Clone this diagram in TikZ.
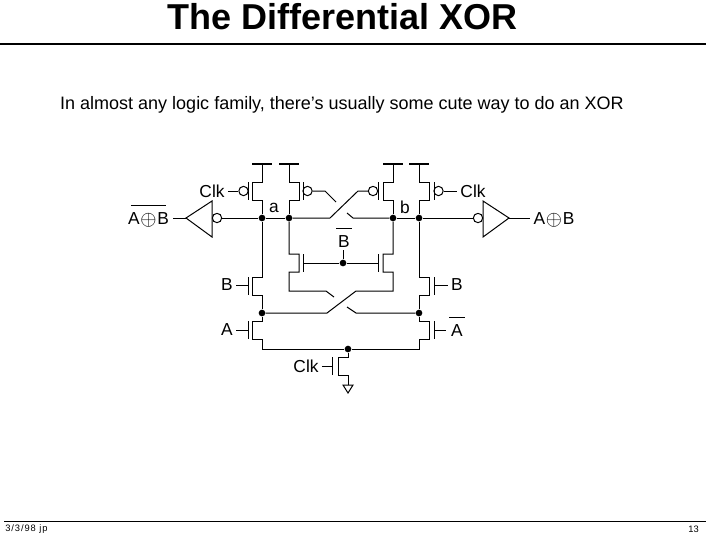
\documentclass[tikz,border=0pt]{standalone}
\usepackage{fontspec}
\setmainfont{Liberation Sans}
\newcommand{\xorsign}{\kern0.5pt\smash{\raisebox{-1.2pt}{\scalebox{1.3}{$\oplus$}}}\kern0.5pt}
\newcommand{\barred}[2][1.5pt]{$\overline{\mbox{\rule{0pt}{12.3pt}\kern#1 #2\kern#1}}$}
\tikzset{
	wire/.style={line width=0.75pt},
	dot/.style={circle, fill=black, inner sep=0pt, minimum size=5pt},
	bubble/.style={circle, draw, line width=0.75pt, inner sep=0pt, minimum size=7pt},
	lbl/.style={inner sep=0pt, outer sep=2.5pt, font=\fontsize{13}{15}\selectfont},
	rail/.style={line width=1.5pt}
}
\begin{document}
\begin{tikzpicture}[x=0.75pt,y=-0.75pt]
		\useasboundingbox (0,0) rectangle (717,536);

		% Title and text
		\node[inner sep=0pt, font=\fontsize{27}{30}\bfseries\selectfont] (title) at (342.5,16.5) {The Differential XOR};
		\coordinate (titleL) at (0,44);
		\coordinate (titleR) at (706,44);
		\draw[line width=1.1pt] (titleL) -- (titleR);
		\node[inner sep=0pt, font=\fontsize{13.5}{16}\selectfont] (intro) at (342,105) {In almost any logic family, there's usually some cute way to do an XOR};

		% Junction dots
		\node[dot] (a1) at (262,218) {};
		\node[dot] (a2) at (289,218) {};
		\node[dot] (b1) at (393,218) {};
		\node[dot] (b2) at (419,218) {};
		\node[dot] (s1) at (262,313) {};
		\node[dot] (s2) at (419,313) {};
		\node[dot] (tail) at (348,349) {};
		\node[dot] (gateB) at (343,263) {};

		% Supply rails
		\coordinate (vdd1) at (262,164);
		\coordinate (vdd2) at (289,164);
		\coordinate (vdd3) at (393,164);
		\coordinate (vdd4) at (419,164);
		\draw[rail] (252,164) -- (272,164);
		\draw[rail] (279,164) -- (299,164);
		\draw[rail] (383,164) -- (403,164);
		\draw[rail] (409,164) -- (429,164);

		% Load devices
		\draw[wire] (vdd1) -- (262,182) -- (252,182) -- (252,200) -- (262,200) -- (a1);
		\draw[wire] (vdd2) -- (289,182) -- (299,182) -- (299,200) -- (289,200) -- (a2);
		\draw[wire] (vdd3) -- (393,182) -- (383,182) -- (383,200) -- (393,200) -- (b1);
		\draw[wire] (vdd4) -- (419,182) -- (429,182) -- (429,200) -- (419,200) -- (b2);
		\draw[wire] (248,182) -- (248,200);
		\draw[wire] (303,182) -- (303,200);
		\draw[wire] (378,182) -- (378,200);
		\draw[wire] (434,182) -- (434,200);

		% Gate bubbles
		\node[bubble] (g1) at (243.5,191) {};
		\node[bubble] (g2) at (307.5,191) {};
		\node[bubble] (g3) at (373,191) {};
		\node[bubble] (g4) at (438.5,191) {};

		% Clk labels
		\node[lbl] (clkL) at (212,191) {Clk};
		\node[lbl] (clkR) at (473,191) {Clk};
		\draw[wire] (clkL.east) -- (g1);
		\draw[wire] (g4) -- (clkR.west);

		% Upper crossover
		\draw[wire] (g2) -- (325,191) -- (336,202);
		\draw[wire] (g3) -- (358,191) -- (330,218) -- (a2);
		\draw[wire] (347,213) -- (353,218) -- (b1);

		% Node wires
		\node[bubble] (invL) at (217,218) {};
		\node[bubble] (invR) at (478,218) {};
		\draw[wire] (invL) -- (a1) -- (a2);
		\draw[wire] (b1) -- (b2) -- (invR);
		\node[inner sep=0pt, font=\fontsize{13}{15}\selectfont] (la) at (274,208) {a};
		\node[inner sep=0pt, font=\fontsize{13}{15}\selectfont] (lb) at (405,207) {b};

		% Inverters
		\coordinate (tipL) at (186,218);
		\coordinate (tipR) at (509,218);
		\draw[wire] (tipL) -- (212,201) -- (212,237) -- cycle;
		\draw[wire] (tipR) -- (483,201) -- (483,237) -- cycle;
		\node[lbl, anchor=base] (outL) at (148.5,224) {\barred[-2pt]{A\xorsign B}};
		\node[lbl, anchor=base] (outR) at (554,224) {A\xorsign B};
		\draw[wire] (173,218) -- (tipL);
		\draw[wire] (tipR) -- (outR.west |- 0,218);

		% Cross coupled pair with Bbar gate
		\draw[wire] (a2) -- (289,254) -- (299,254) -- (299,272) -- (289,272) -- (289,291) -- (326,291) -- (334,297);
		\draw[wire] (b1) -- (393,254) -- (383,254) -- (383,272) -- (393,272) -- (393,291) -- (356,291) -- (327,313) -- (s1);
		\draw[wire] (347,307) -- (356,313) -- (s2);
		\draw[wire] (303,254) -- (303,272);
		\draw[wire] (378,254) -- (378,272);
		\draw[wire] (303,263) -- (gateB) -- (378,263);
		\node[lbl, anchor=base] (lBbar) at (344,247) {\barred{B}};
		\draw[wire] (gateB) -- (343,250);

		% B devices
		\draw[wire] (a1) -- (262,277) -- (252,277) -- (252,295) -- (262,295) -- (s1);
		\draw[wire] (b2) -- (419,277) -- (429,277) -- (429,295) -- (419,295) -- (s2);
		\draw[wire] (248,277) -- (248,295);
		\draw[wire] (434,277) -- (434,295);
		\node[lbl] (lBl) at (227,285) {B};
		\node[lbl] (lBr) at (457,285) {B};
		\draw[wire] (lBl.east) -- (248,285);
		\draw[wire] (434,285) -- (lBr.west);

		% A devices
		\draw[wire] (s1) -- (262,321) -- (252,321) -- (252,339) -- (262,339) -- (262,349) -- (tail);
		\draw[wire] (s2) -- (419,321) -- (429,321) -- (429,339) -- (419,339) -- (419,349) -- (tail);
		\draw[wire] (248,321) -- (248,339);
		\draw[wire] (434,321) -- (434,339);
		\node[lbl] (lA) at (227,330) {A};
		\node[lbl, anchor=base] (lAbar) at (457,336) {\barred{A}};
		\draw[wire] (lA.east) -- (248,330);
		\draw[wire] (434,330) -- (lAbar.west |- 0,330);

		% Clk tail device
		\draw[wire] (tail) -- (348,357) -- (338,357) -- (338,375) -- (348,375) -- (348,385);
		\draw[wire] (332,357) -- (332,375);
		\node[lbl] (clkT) at (306,366) {Clk};
		\draw[wire] (clkT.east) -- (332,366);
		\coordinate (gnd) at (348,385);
		\draw[wire] (343,385) -- (353,385) -- (348,393) -- cycle;

		% Footer
		\coordinate (footL) at (4,521);
		\coordinate (footR) at (706,521);
		\draw[wire] (footL) -- (footR);
		\node[inner sep=0pt, anchor=west, font=\fontsize{7}{8}\selectfont\addfontfeature{LetterSpace=10}] (date) at (5,529) {3/3/98 jp};
		\node[inner sep=0pt, anchor=east, font=\fontsize{7}{8}\selectfont] (page) at (699,529) {13};
	\end{tikzpicture}
\end{document}
